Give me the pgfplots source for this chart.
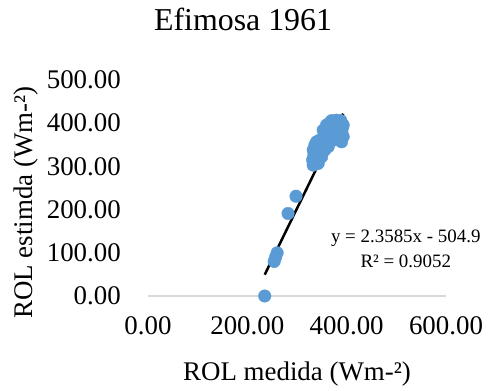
\documentclass[border=0pt]{standalone}
\usepackage{pgfplots}
\pgfplotsset{compat=1.18}
\usepackage{fontspec}
\setmainfont{Liberation Serif}
\definecolor{exblue}{HTML}{5B9BD5}
\definecolor{axgray}{HTML}{D9D9D9}
\begin{document}
\begin{tikzpicture}[x=1bp,y=1bp]
\useasboundingbox (0,0) rectangle (491,390);
\begin{axis}[
  at={(148bp,94bp)}, anchor=south west,
  scale only axis, width=298bp, height=216bp,
  xmin=0, xmax=600, ymin=0, ymax=500,
  xtick={0,200,400,600}, ytick={0,100,200,300,400,500},
  clip=false,
  axis line style={draw=none},
  tick style={draw=none},
  /pgf/number format/assume math mode=true,
  /pgf/number format/.cd, fixed, fixed zerofill, precision=2, 1000 sep={},
  /pgfplots/.cd,
  ticklabel style={font=\fontsize{27}{32}\selectfont},
  xticklabel style={anchor=center, yshift=-30bp},
  yticklabel style={anchor=east, inner sep=0pt, xshift=-27bp},
  title={Efimosa 1961},
  title style={at={(axis description cs:0.319,1.255)}, anchor=center, font=\fontsize{32}{38}\selectfont},
  xlabel={ROL medida (Wm-²)},
  xlabel style={at={(axis description cs:0.5,-0.36)}, anchor=center, font=\fontsize{27}{32}\selectfont},
  ylabel={ROL estimda (Wm-²)},
  ylabel style={at={(axis description cs:-0.409,0.433)}, anchor=center, font=\fontsize{27}{32}\selectfont},
]
\draw[axgray, line width=1.2pt] (axis cs:0,0) -- (axis cs:600,0);
\addplot[only marks, mark=*, mark size=6.3pt, mark options={fill=exblue, draw=exblue}] coordinates {
(235,0)
(254,80) (257,90) (260,100)
(282,191) (298,231)
(332.6,303) (331.4,314.8) (334,326) (332.6,338) (336,349.5) (339.4,357) (346,361)
(336,330) (342.7,345.6) (352.7,349.5) (356,338) (349.5,322) (342.7,307)
(359.5,361) (366,368.8) (362.8,345.6)
(352.7,384) (359.5,395.8) (366,401) (369.6,405.8) (379.6,407) (388.3,405.8)
(389.7,399.7) (391.7,390.5) (390.3,380) (393,368.8) (386.3,376.6) (379.6,388)
(372.9,395.8) (366,376.6) (359.5,368.8) (372.9,361) (383,365) (389.7,357)
(376.3,372.7) (386.3,399.7) (366,392) (393,395.8)
};
\addplot[black, line width=2.5bp] coordinates {(235,49.35) (393,421.99)};
\node[align=center, font=\fontsize{19}{25}\selectfont] at (axis cs:519,110) {y = 2.3585x - 504.9\\R² = 0.9052};
\end{axis}
\end{tikzpicture}
\end{document}
